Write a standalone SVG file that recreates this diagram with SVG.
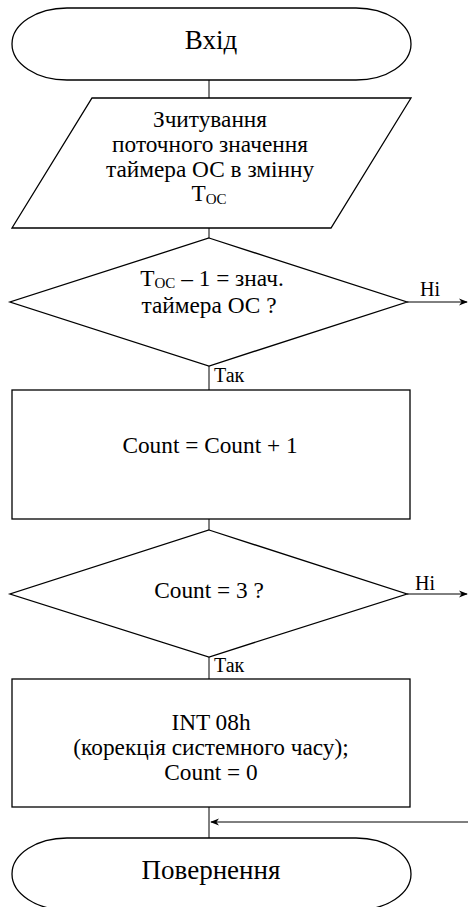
<svg xmlns="http://www.w3.org/2000/svg" width="468" height="907" viewBox="0 0 468 907" font-family="'Liberation Serif', 'DejaVu Serif', 'Times New Roman', serif">
<style>
.s{fill:#fff;stroke:#000;stroke-width:1.3}
.c{fill:none;stroke:#000;stroke-width:1}
text{font-family:'Liberation Serif','DejaVu Serif','Times New Roman',serif;fill:#000;text-anchor:middle}
.t{font-size:23.3px}
.b{font-size:27px}
.l{font-size:20px;text-anchor:start}
.sub{font-size:15px}
</style>
<defs>
<marker id="ah" viewBox="0 0 10 10" refX="9" refY="5" markerWidth="9" markerHeight="9" markerUnits="userSpaceOnUse" orient="auto">
<path d="M0,1 L10,5 L0,9 L3,5 z" fill="#000"/>
</marker>
</defs>
<g id="connectors">
<line class="c" x1="209" y1="80" x2="209" y2="98"/>
<line class="c" x1="209" y1="228" x2="209" y2="238"/>
<line class="c" x1="209" y1="366" x2="209" y2="390"/>
<line class="c" x1="209" y1="519" x2="209" y2="530"/>
<line class="c" x1="209" y1="657" x2="209" y2="679"/>
<line class="c" x1="209" y1="807" x2="209" y2="838"/>
<line class="c" x1="407" y1="302" x2="467" y2="302" marker-end="url(#ah)"/>
<line class="c" x1="407" y1="594" x2="467" y2="594" marker-end="url(#ah)"/>
<line class="c" x1="468" y1="822" x2="211" y2="822" marker-end="url(#ah)"/>
<text class="l" x="420" y="296">Ні</text>
<text class="l" x="415" y="590">Ні</text>
<text class="l" x="214" y="382">Так</text>
<text class="l" x="214" y="672">Так</text>
</g>
<g id="start">
<rect class="s" x="12" y="8" width="399" height="72" rx="55" ry="36"/>
<text class="b" x="211" y="49">Вхід</text>
</g>
<g id="read">
<polygon class="s" points="92,98 411,98 331,228 12,228"/>
<text class="t" x="210" y="127">Зчитування</text>
<text class="t" x="210" y="152">поточного значення</text>
<text class="t" x="210" y="177">таймера ОС в змінну</text>
<text class="t" x="209" y="201">T<tspan class="sub" dy="3">OC</tspan></text>
</g>
<g id="check1">
<polygon class="s" points="209,238 407,302 209,366 10,302"/>
<text class="t" x="212" y="286">T<tspan class="sub" dy="2">OC</tspan><tspan dy="-2"> – 1 = знач.</tspan></text>
<text class="t" x="209" y="313">таймера ОС ?</text>
</g>
<g id="inc">
<rect class="s" x="12" y="390" width="398" height="129"/>
<text class="t" x="210" y="453">Count = Count + 1</text>
</g>
<g id="check2">
<polygon class="s" points="209,530 407,594 209,657 10,594"/>
<text class="t" x="209" y="598">Count = 3 ?</text>
</g>
<g id="int">
<rect class="s" x="12" y="679" width="398" height="128"/>
<text class="t" x="211" y="730">INT 08h</text>
<text class="t" x="211" y="755">(корекція системного часу);</text>
<text class="t" x="211" y="780">Count = 0</text>
</g>
<g id="end">
<rect class="s" x="12" y="838" width="399" height="72" rx="55" ry="36"/>
<text class="b" x="211" y="879">Повернення</text>
</g>
</svg>
